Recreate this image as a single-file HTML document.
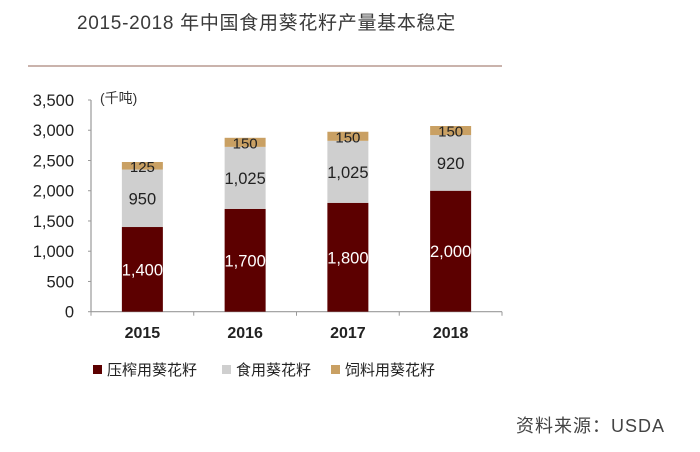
<!DOCTYPE html>
<html><head><meta charset="utf-8"><style>
body{margin:0;background:#fff;width:700px;height:447px;overflow:hidden;font-family:"Liberation Sans","Noto Sans CJK SC",sans-serif}
</style></head><body>
<svg width="700" height="447" xmlns="http://www.w3.org/2000/svg">
<text x="77" y="29" font-size="19" letter-spacing="0.7" fill="#3a3a3a" font-family="Liberation Sans,Noto Sans CJK SC,sans-serif">2015-2018 年中国食用葵花籽产量基本稳定</text>
<line x1="28" y1="66" x2="502" y2="66" stroke="#b89a90" stroke-width="1.5"/>
<g id="plot"></g>
<text x="516" y="432" font-size="18" letter-spacing="1" fill="#444">资料来源：USDA</text>
</svg>
<script>
const years=["2015","2016","2017","2018"];
const press=[1400,1700,1800,2000];
const edible=[950,1025,1025,920];
const feed=[125,150,150,150];
const yTicks=[0,500,1000,1500,2000,2500,3000,3500];
const ns="http://www.w3.org/2000/svg";
const g=document.getElementById("plot");
const X0=91,X1=502,Y0=311.7,Y1=100,YMAX=3500;
const y=v=>Y0-(v/YMAX)*(Y0-Y1);
const bw=(X1-X0)/years.length, barW=41;
const xc=i=>X0+bw*(i+0.5);
function mk(t,a,txt){const e=document.createElementNS(ns,t);for(const k in a)e.setAttribute(k,a[k]);if(txt!=null)e.textContent=txt;g.appendChild(e);return e;}
let e;
e=mk("line",{x1:X0,y1:Y0,x2:X1,y2:Y0,stroke:"#999","stroke-width":1.2});


e=mk("line",{x1:X0,y1:Y1,x2:X0,y2:Y0,stroke:"#999","stroke-width":1.2});


yTicks.forEach(t=>{
 e=mk("text",{x:X0-17,y:y(t)+6,"font-size":16.5,fill:"#222","text-anchor":"end"},t.toLocaleString("en-US"));
 
 
 e=mk("line",{x1:X0-3,y1:y(t),x2:X0,y2:y(t),stroke:"#999"});
 
 
});
for(let i=0;i<=years.length;i++){e=mk("line",{x1:X0+bw*i,y1:Y0,x2:X0+bw*i,y2:Y0+4,stroke:"#999"});
 
 }
e=mk("text",{x:100,y:103,"font-size":14,fill:"#333"},"(千吨)");


const series=[[press,"#5c0000","#fff"],[edible,"#cfcfcf","#222"],[feed,"#c9a063","#222"]];
years.forEach((yr,i)=>{
 let base=0;
 series.forEach(([arr,col,tc],s)=>{
  const v=arr[i];
  e=mk("rect",{x:xc(i)-barW/2,y:y(base+v),width:barW,height:y(base)-y(base+v),fill:col});
  
  
  const fs=s==2?15:16.5;
  e=mk("text",{x:xc(i),y:(y(base)+y(base+v))/2+6,"font-size":fs,fill:tc,"text-anchor":"middle"},v.toLocaleString("en-US"));
  
  
  base+=v;
 });
 e=mk("text",{x:xc(i),y:338,"font-size":16,"font-weight":"bold",fill:"#222","text-anchor":"middle"},yr);
 
 
});
const leg=[["压榨用葵花籽","#5c0000",93],["食用葵花籽","#cfcfcf",222],["饲料用葵花籽","#c9a063",331]];
leg.forEach(([t,c,x])=>{
 e=mk("rect",{x:x,y:365,width:9,height:9,fill:c});
 
 
 e=mk("text",{x:x+14,y:375,"font-size":15,fill:"#222","font-family":"Noto Sans CJK SC,sans-serif"},t);
 
 
});
</script>
</body></html>
